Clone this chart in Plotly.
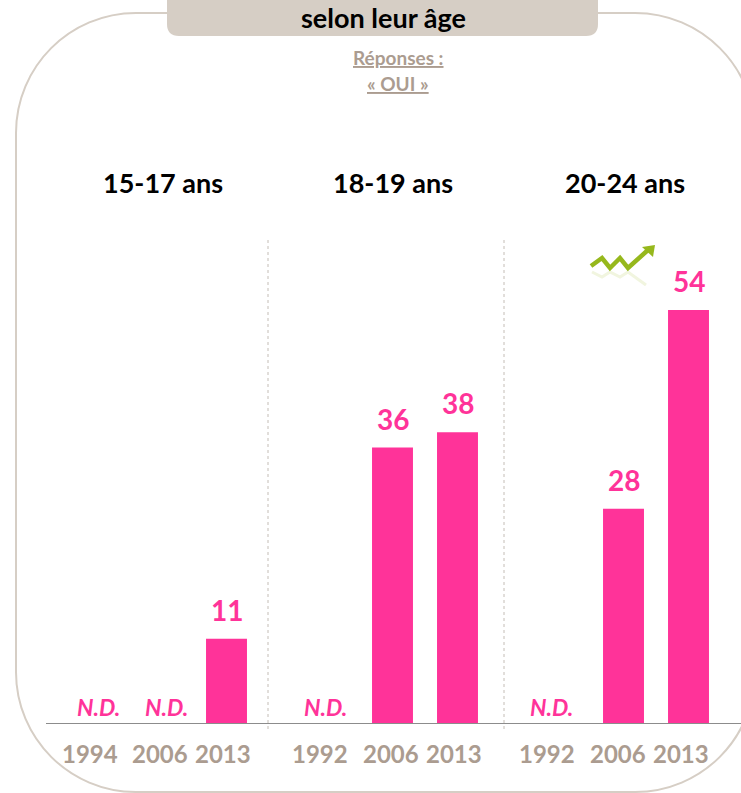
import plotly.graph_objects as go

W, H = 741, 793
FONT = "Lato"
PINK = "#ff3399"
TAUPE = "#ab9c90"
FRAME = "#d6cec5"

groups = ["15-17 ans", "18-19 ans", "20-24 ans"]
years_1 = ["1994", "2006", "2013"]
years_2 = ["1992", "2006", "2013"]
years_3 = ["1992", "2006", "2013"]
values_1 = [None, None, 11]
values_2 = [None, 36, 38]
values_3 = [None, 28, 54]
all_years = [years_1, years_2, years_3]
all_values = [values_1, values_2, values_3]

# layout in pixels
BASE_Y, TOP_Y = 723, 264
Y_MAX = 60
panels = [(46, 268, 96.5), (268, 504, 327.5), (504, 741, 558.5)]
SLOT = 65
title_x = [163, 393.5, 625]
year_shift = [[-7, -2, -3.5], [-7.5, -1.5, -3.5], [-11.5, -6, -8]]
nd_shift = [[1.5, 4.5, 0], [-2.5, 0, 0], [-7, 0, 0]]


def px(x):
    return x / W


def py(y):
    return 1 - y / H


fig = go.Figure()
annotations = []
for i, (left, right, first) in enumerate(panels):
    suffix = "" if i == 0 else str(i + 1)
    fig.add_trace(go.Bar(
        x=all_years[i], y=all_values[i], xaxis="x" + suffix, yaxis="y",
        marker=dict(color=PINK, line=dict(width=0)),
        showlegend=False, hoverinfo="x+y",
    ))
    fig.update_layout({
        "xaxis" + suffix: dict(
            domain=[px(left), px(right)], type="category",
            categoryorder="array", categoryarray=all_years[i],
            range=[(left - first) / SLOT, (right - first) / SLOT],
            showticklabels=False, ticks="", showgrid=False, zeroline=False,
            showline=True, linecolor="#8c8c8c", linewidth=1,
            anchor="y", fixedrange=True,
        )
    })
    for j, yr in enumerate(all_years[i]):
        annotations.append(dict(
            x=j, y=0, xref="x" + suffix, yref="y", text=yr, showarrow=False,
            xanchor="center", yanchor="top", yshift=-14,
            xshift=year_shift[i][j],
            font=dict(family=FONT, size=24, color=TAUPE, weight="bold"),
        ))
        if all_values[i][j] is None:
            annotations.append(dict(
                x=j, y=0, xref="x" + suffix, yref="y",
                text="<b><i>N.D.</i></b>", showarrow=False,
                xanchor="center", yanchor="bottom", xshift=nd_shift[i][j],
                font=dict(family=FONT, size=23, color=PINK),
            ))
        else:
            annotations.append(dict(
                x=j, y=all_values[i][j], xref="x" + suffix, yref="y",
                text=str(all_values[i][j]), showarrow=False,
                xanchor="center", yanchor="bottom", yshift=10,
                font=dict(family=FONT, size=28, color=PINK, weight="bold"),
            ))
    annotations.append(dict(
        x=px(title_x[i]), y=py(182), xref="paper", yref="paper",
        text="<b>%s</b>" % groups[i], showarrow=False,
        xanchor="center", yanchor="middle",
        font=dict(family=FONT, size=27, color="black"),
    ))

annotations += [
    dict(x=px(383), y=py(17), xref="paper", yref="paper",
         text="<b>selon leur âge</b>", showarrow=False,
         xanchor="center", yanchor="middle",
         font=dict(family=FONT, size=27, color="black")),
    dict(x=px(398), y=py(57), xref="paper", yref="paper",
         text="<b><u>Réponses :</u></b>", showarrow=False,
         xanchor="center", yanchor="middle",
         font=dict(family=FONT, size=19, color=TAUPE)),
    dict(x=px(398), y=py(84), xref="paper", yref="paper",
         text="<b><u>« OUI »</u></b>", showarrow=False,
         xanchor="center", yanchor="middle",
         font=dict(family=FONT, size=19, color=TAUPE)),
]


def pt(p):
    return "%.5f,%.5f" % (px(p[0]), py(p[1]))


def poly(points, close=False):
    return "M " + " L ".join(pt(p) for p in points) + (" Z" if close else "")


FL, FR, FT, FB, R = 16, 755, 13, 792, 120
K = R * 0.448
frame = (
    "M %s L %s C %s %s %s L %s C %s %s %s L %s C %s %s %s L %s C %s %s %s Z" % (
        pt((FL + R, FT)), pt((FR - R, FT)),
        pt((FR - K, FT)), pt((FR, FT + K)), pt((FR, FT + R)),
        pt((FR, FB - R)),
        pt((FR, FB - K)), pt((FR - K, FB)), pt((FR - R, FB)),
        pt((FL + R, FB)),
        pt((FL + K, FB)), pt((FL, FB - K)), pt((FL, FB - R)),
        pt((FL, FT + R)),
        pt((FL, FT + K)), pt((FL + K, FT)), pt((FL + R, FT)),
    )
)
header = "M %s L %s L %s Q %s %s L %s Q %s %s Z" % (
    pt((167, 0)), pt((598, 0)), pt((598, 24)),
    pt((598, 36)), pt((586, 36)), pt((179, 36)),
    pt((167, 36)), pt((167, 24)),
)
arrow_line = [(591, 266), (602, 258), (610, 268), (620, 258), (628, 268), (648, 250)]
arrow_head = [(655, 245), (642, 247), (653, 257)]
reflect = [(592, 272), (602, 277), (610, 272), (620, 277), (628, 272), (646, 285)]

shapes = [
    dict(type="path", path=frame, xref="paper", yref="paper",
         line=dict(color=FRAME, width=2), layer="below"),
    dict(type="path", path=header, xref="paper", yref="paper",
         fillcolor=FRAME, line=dict(width=0), layer="below"),
    dict(type="path", path=poly(reflect), xref="paper", yref="paper",
         line=dict(color="#f1f5df", width=3), layer="below"),
    dict(type="path", path=poly(arrow_line), xref="paper", yref="paper",
         line=dict(color="#96b81c", width=4.5)),
    dict(type="path", path=poly(arrow_head, True), xref="paper", yref="paper",
         fillcolor="#96b81c", line=dict(width=0)),
]
for x in (268, 504):
    shapes.append(dict(type="line", xref="paper", yref="paper",
                       x0=px(x), x1=px(x), y0=py(240), y1=py(731),
                       line=dict(color="#c4bdb6", width=1, dash="dot")))

fig.update_layout(
    width=W, height=H, margin=dict(l=0, r=0, t=0, b=0),
    paper_bgcolor="white", plot_bgcolor="rgba(0,0,0,0)",
    bargap=0.37, showlegend=False,
    yaxis=dict(domain=[py(BASE_Y), py(TOP_Y)], range=[0, Y_MAX], visible=False, fixedrange=True),
    annotations=annotations, shapes=shapes,
)
fig.write_html("out.html", config=dict(displayModeBar=False),
               post_script="document.body.style.margin='0';document.body.style.overflow='hidden';")
